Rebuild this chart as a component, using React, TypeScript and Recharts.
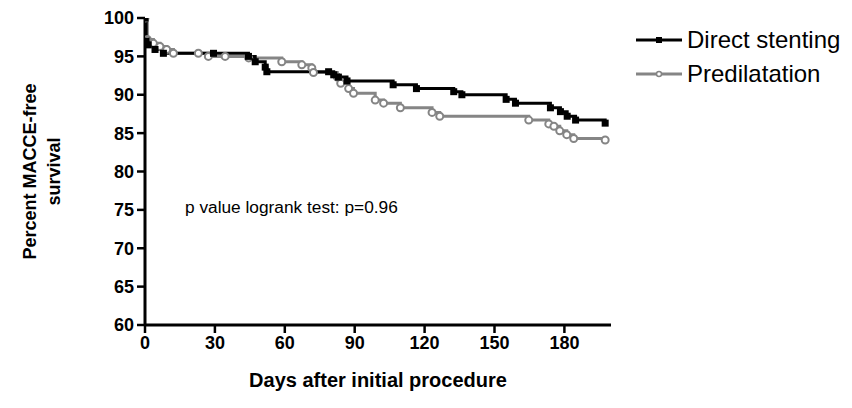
import React from 'react';
import { LineChart, Line, XAxis, YAxis, Label } from 'recharts';

// Kaplan-Meier estimates: day of event/censoring and percent MACCE-free after it
const directDays = [0, 0.5, 1.4, 4.3, 7.9, 29.4, 44.4, 47.3, 51.6, 52.3, 78.8, 81, 83, 86.7, 106.5, 116.5, 132.5, 136, 155, 159, 174, 178.3, 181.2, 184.8, 197.5];
const directPct = [100, 97.0, 96.5, 95.9, 95.4, 95.4, 95.0, 94.3, 93.6, 93.0, 93.0, 92.6, 92.3, 91.8, 91.3, 90.8, 90.4, 90.0, 89.4, 88.9, 88.3, 87.8, 87.2, 86.7, 86.3];

const predilDays = [0, 1, 3.6, 6.4, 9.3, 12.2, 22.9, 27.2, 34.4, 44.5, 58.7, 67.3, 71.6, 72.3, 82.5, 84, 87.4, 89.5, 98.8, 102.4, 109.6, 123.2, 126.5, 164.7, 173.3, 175.5, 178, 181, 184, 197.5];
const predilPct = [100, 97.2, 96.7, 96.3, 95.9, 95.4, 95.4, 95.0, 95.0, 94.8, 94.3, 93.9, 93.5, 92.9, 92.3, 91.5, 90.8, 90.2, 89.3, 88.9, 88.3, 87.7, 87.2, 86.7, 86.2, 85.9, 85.3, 84.8, 84.3, 84.1];

const xTicks = [0, 30, 60, 90, 120, 150, 180];
const yTicks = [60, 65, 70, 75, 80, 85, 90, 95, 100];

const FONT = '"Liberation Sans", Arial, sans-serif';
const DIRECT = '#000000';
const PREDIL = '#858585';

const toRows = (days: number[], pct: number[]) => days.map((day, i) => ({ day, pct: pct[i] }));
const directData = toRows(directDays, directPct);
const predilData = toRows(predilDays, predilPct);

const SquareDot = (props: any) => {
  const { cx, cy } = props;
  if (cx == null || cy == null) return null;
  return <rect x={cx - 3.5} y={cy - 3.5} width={7} height={7} fill={DIRECT} />;
};

const CircleDot = (props: any) => {
  const { cx, cy } = props;
  if (cx == null || cy == null) return null;
  return <circle cx={cx} cy={cy} r={3.5} fill="#fff" stroke={PREDIL} strokeWidth={2} />;
};

const legendItems = [
  { name: 'Direct stenting', color: DIRECT, marker: 'square' },
  { name: 'Predilatation', color: PREDIL, marker: 'circle' },
];

// legend sits beside the plot, outside recharts' layout so it doesn't shrink the axes
const KmLegend = () => (
  <div style={{ position: 'absolute', left: 636, top: 23, fontFamily: FONT, fontSize: 24, color: '#000' }}>
    {legendItems.map((it) => (
      <div key={it.name} style={{ display: 'flex', alignItems: 'center', height: 34 }}>
        <svg width={46} height={12} style={{ marginRight: 5 }}>
          <line x1={0} y1={6} x2={46} y2={6} stroke={it.color} strokeWidth={3} />
          {it.marker === 'square' ? (
            <rect x={20} y={3} width={6} height={6} fill={it.color} />
          ) : (
            <circle cx={23} cy={6} r={2.5} fill="#fff" stroke={it.color} strokeWidth={1.5} />
          )}
        </svg>
        <span>{it.name}</span>
      </div>
    ))}
  </div>
);

export default function App() {
  return (
    <div style={{ position: 'relative', width: 852, height: 408, fontFamily: FONT, background: '#fff' }}>
      <style>{'body{margin:0}'}</style>
      <LineChart width={852} height={408} margin={{ top: 18, right: 241, bottom: 13, left: 85 }}>
        <XAxis
          type="number"
          dataKey="day"
          domain={[0, 200]}
          ticks={xTicks}
          allowDataOverflow
          height={70}
          tickSize={8}
          tickMargin={3}
          tick={{ fill: '#000', fontSize: 18, fontWeight: 'bold', fontFamily: FONT }}
          axisLine={{ stroke: '#000', strokeWidth: 3 }}
          tickLine={{ stroke: '#000', strokeWidth: 2.5 }}
        >
          <Label
            content={({ viewBox }: any) => (
              <text
                x={viewBox.x + viewBox.width / 2}
                y={viewBox.y + 62}
                textAnchor="middle"
                fontFamily={FONT}
                fontWeight="bold"
                fontSize={20}
                fill="#000"
              >
                Days after initial procedure
              </text>
            )}
          />
        </XAxis>
        <YAxis
          type="number"
          dataKey="pct"
          domain={[60, 100]}
          ticks={yTicks}
          allowDataOverflow
          width={60}
          tickSize={8}
          tickMargin={3}
          tick={{ fill: '#000', fontSize: 18, fontWeight: 'bold', fontFamily: FONT }}
          axisLine={{ stroke: '#000', strokeWidth: 3 }}
          tickLine={{ stroke: '#000', strokeWidth: 2.5 }}
        >
          <Label
            content={({ viewBox }: any) => (
              <text
                transform={`translate(36, ${viewBox.y + viewBox.height / 2}) rotate(-90)`}
                textAnchor="middle"
                fontFamily={FONT}
                fontWeight="bold"
                fontSize={18}
                fill="#000"
              >
                <tspan x={0} dy={0}>Percent MACCE-free</tspan>
                <tspan x={0} dy={24}>survival</tspan>
              </text>
            )}
          />
        </YAxis>
        <Line
          data={predilData}
          dataKey="pct"
          name="Predilatation"
          type="stepAfter"
          stroke={PREDIL}
          strokeWidth={3}
          dot={<CircleDot />}
          activeDot={false}
          isAnimationActive={false}
        />
        <Line
          data={directData}
          dataKey="pct"
          name="Direct stenting"
          type="stepAfter"
          stroke={DIRECT}
          strokeWidth={3}
          dot={<SquareDot />}
          activeDot={false}
          isAnimationActive={false}
        />
      </LineChart>
      <KmLegend />
      <div
        style={{
          position: 'absolute',
          left: 185,
          top: 197,
          fontSize: 17.3,
          color: '#000',
          whiteSpace: 'nowrap',
        }}
      >
        p value logrank test: p=0.96
      </div>
    </div>
  );
}
